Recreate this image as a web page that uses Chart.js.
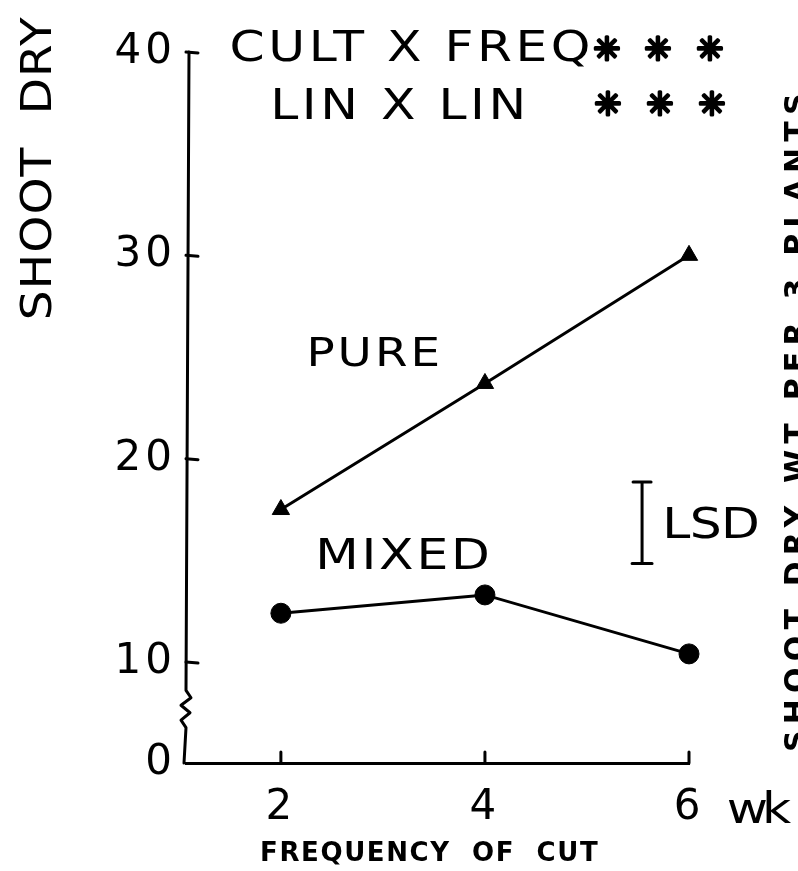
<!DOCTYPE html>
<html>
<head>
<meta charset="utf-8">
<title>Shoot dry weight by frequency of cut</title>
<script src="https://cdn.jsdelivr.net/npm/chart.js@4.4.1/dist/chart.umd.min.js"></script>
<style>
  html, body { margin: 0; padding: 0; background: #fff; }
  #wrap { width: 798px; height: 871px; }
</style>
</head>
<body>
<div id="wrap"><canvas id="shootChart" width="798" height="871"></canvas></div>
<script>
// weeks between cuts and shoot dry weight per 3 plants
const cutWeeks = [2, 4, 6];
const pureShoot = [17.5, 23.7, 30.0];
const mixedShoot = [12.4, 13.3, 10.4];
const yTickValues = [0, 10, 20, 30, 40];

// LSD bar: length, centre value and the week it is drawn at
const lsdValue = 4.0;
const lsdCentre = 16.85;
const lsdWeek = 5.54;

// y axis is broken below 10, the 0-10 part gets a short strip at the bottom
const BREAK_AT = 10;
const LOWER_SHARE = 0.142;
// zigzag drawn between these values
const ZIG_FROM = 7.2;
const ZIG_TO = 3.5;

const LETTER = '"DejaVu Sans", sans-serif';
const INK = '#000';
const WIDE = 1.2;   // stencil lettering is wider than DejaVu

const LinearScale = Chart.LinearScale || Chart.registry.getScale('linear');

class BrokenLinearScale extends LinearScale {
    getPixelForValue(value) {
        let dec;
        if (value <= BREAK_AT) {
            dec = (value - this.min) / (BREAK_AT - this.min) * LOWER_SHARE;
        } else {
            dec = LOWER_SHARE + (value - BREAK_AT) / (this.max - BREAK_AT) * (1 - LOWER_SHARE);
        }
        return this.getPixelForDecimal(dec);
    }
    getValueForPixel(pixel) {
        const dec = this.getDecimalForPixel(pixel);
        if (dec <= LOWER_SHARE) {
            return this.min + dec / LOWER_SHARE * (BREAK_AT - this.min);
        }
        return BREAK_AT + (dec - LOWER_SHARE) / (1 - LOWER_SHARE) * (this.max - BREAK_AT);
    }
}
BrokenLinearScale.id = 'brokenLinear';
BrokenLinearScale.defaults = LinearScale.defaults;
Chart.register(BrokenLinearScale);

// text stretched so its ink runs from x0 to x1, centred on cy
function spacedText(ctx, text, x0, x1, cy, font, stretch = 1) {
    ctx.save();
    ctx.font = font;
    ctx.letterSpacing = '0px';
    ctx.textAlign = 'left';
    ctx.textBaseline = 'alphabetic';
    const m = ctx.measureText(text);
    const ink = m.actualBoundingBoxLeft + m.actualBoundingBoxRight;
    const gaps = text.length - 1;
    const sp = gaps > 0 ? ((x1 - x0) / stretch - ink) / gaps : 0;
    ctx.letterSpacing = sp + 'px';
    ctx.translate(x0, cy);
    ctx.scale(stretch, 1);
    ctx.fillStyle = INK;
    ctx.fillText(text, m.actualBoundingBoxLeft,
        (m.actualBoundingBoxAscent - m.actualBoundingBoxDescent) / 2);
    ctx.restore();
}

// same, but reading upwards from y1 (bottom) to y0 (top) around column cx
function upText(ctx, text, cx, y0, y1, font, stretch = 1) {
    ctx.save();
    ctx.translate(cx, (y0 + y1) / 2);
    ctx.rotate(-Math.PI / 2);
    const half = (y1 - y0) / 2;
    spacedText(ctx, text, -half, half, 0, font, stretch);
    ctx.restore();
}

// single glyph centred on (cx, cy), outlined to make it heavier
function glyph(ctx, ch, cx, cy, font, weight = 0) {
    ctx.save();
    ctx.font = font;
    ctx.textAlign = 'center';
    ctx.textBaseline = 'alphabetic';
    const m = ctx.measureText(ch);
    const y = cy + (m.actualBoundingBoxAscent - m.actualBoundingBoxDescent) / 2;
    ctx.fillStyle = INK;
    ctx.fillText(ch, cx, y);
    if (weight > 0) {
        ctx.strokeStyle = INK;
        ctx.lineWidth = weight;
        ctx.lineJoin = 'round';
        ctx.strokeText(ch, cx, y);
    }
    ctx.restore();
}

const axisLetterSpacing = {
    id: 'axisLetterSpacing',
    beforeDraw(chart) {
        chart.ctx.letterSpacing = '4px';
    },
    beforeDatasetsDraw(chart) {
        chart.ctx.letterSpacing = '0px';
    }
};

const handDrawnAxes = {
    id: 'handDrawnAxes',
    beforeDatasetsDraw(chart) {
        const { ctx, chartArea, scales } = chart;
        const xs = scales.x, ys = scales.y;
        const left = chartArea.left;
        ctx.save();
        ctx.strokeStyle = INK;
        ctx.lineWidth = 3;
        ctx.lineCap = 'round';
        ctx.lineJoin = 'round';

        // y axis line with a zigzag break
        const top = ys.getPixelForValue(40);
        const zTop = ys.getPixelForValue(ZIG_FROM);
        const zBot = ys.getPixelForValue(ZIG_TO);
        const bottom = ys.getPixelForValue(0);
        const step = (zBot - zTop) / 5;
        ctx.beginPath();
        ctx.moveTo(left + 3, top);
        ctx.lineTo(left, zTop);
        ctx.lineTo(left + 5, zTop + step);
        ctx.lineTo(left - 5, zTop + 2 * step);
        ctx.lineTo(left + 4, zTop + 3 * step);
        ctx.lineTo(left - 5, zTop + 4 * step);
        ctx.lineTo(left, zBot);
        ctx.lineTo(left - 2, bottom);
        ctx.stroke();

        // short ticks pointing into the plot
        yTickValues.forEach(v => {
            if (v === 0) return;
            const y = ys.getPixelForValue(v);
            ctx.beginPath();
            ctx.moveTo(left, y);
            ctx.lineTo(left + 12, y + 1);
            ctx.stroke();
        });
        cutWeeks.forEach(w => {
            const x = xs.getPixelForValue(w);
            ctx.beginPath();
            ctx.moveTo(x, bottom);
            ctx.lineTo(x, bottom - 11);
            ctx.stroke();
        });
        ctx.restore();
    }
};

const figureText = {
    id: 'figureText',
    afterDraw(chart) {
        const { ctx, scales } = chart;
        const xs = scales.x, ys = scales.y;
        const big = '42px ' + LETTER;
        const star = 'bold 32px ' + LETTER;
        const hand = 'bold 26px ' + LETTER;

        spacedText(ctx, 'CULT X FREQ', 232, 588, 48, big, WIDE);
        [607, 658, 710].forEach(x => glyph(ctx, '\u2733', x, 48, star, 3));
        spacedText(ctx, 'LIN X LIN', 275, 522, 103, big, WIDE);
        [608, 660, 712].forEach(x => glyph(ctx, '\u2733', x, 103, star, 3));

        spacedText(ctx, 'PURE', 310, 438, 352, '39px ' + LETTER, WIDE);
        spacedText(ctx, 'MIXED', 320, 487, 553, big, WIDE);

        // LSD bar drawn on the value scale
        const lx = xs.getPixelForValue(lsdWeek);
        const lTop = ys.getPixelForValue(lsdCentre + lsdValue / 2);
        const lBot = ys.getPixelForValue(lsdCentre - lsdValue / 2);
        ctx.save();
        ctx.strokeStyle = INK;
        ctx.lineWidth = 3;
        ctx.lineCap = 'round';
        ctx.beginPath();
        ctx.moveTo(lx, lTop);
        ctx.lineTo(lx, lBot);
        ctx.moveTo(lx - 9, lTop);
        ctx.lineTo(lx + 9, lTop);
        ctx.moveTo(lx - 10, lBot);
        ctx.lineTo(lx + 10, lBot);
        ctx.stroke();
        ctx.restore();
        spacedText(ctx, 'LSD', 667, 757, (lTop + lBot) / 2, big, WIDE);

        spacedText(ctx, 'wk', 728, 792, 806, big, WIDE);
        spacedText(ctx, 'FREQUENCY  OF  CUT', 262, 598, 853, hand);

        upText(ctx, 'SHOOT  DRY', 35, 17, 318, big, 1.12);
        upText(ctx, 'SHOOT DRY WT PER 3 PLANTS', 795, 95, 750, 'bold 30px ' + LETTER);
    }
};

const ctx = document.getElementById('shootChart').getContext('2d');
const shootChart = new Chart(ctx, {
    type: 'line',
    data: {
        datasets: [{
            label: 'PURE',
            data: cutWeeks.map((w, i) => ({ x: w, y: pureShoot[i] })),
            borderColor: INK,
            backgroundColor: INK,
            borderWidth: 3,
            pointStyle: 'triangle',
            pointRadius: 10,
            pointBorderWidth: 1,
            tension: 0,
            clip: false
        }, {
            label: 'MIXED',
            data: cutWeeks.map((w, i) => ({ x: w, y: mixedShoot[i] })),
            borderColor: INK,
            backgroundColor: INK,
            borderWidth: 3,
            pointStyle: 'circle',
            pointRadius: 10,
            pointBorderWidth: 1,
            tension: 0,
            clip: false
        }]
    },
    options: {
        responsive: false,
        animation: false,
        layout: {
            padding: { left: 74, right: 109, top: 52, bottom: 38 }
        },
        scales: {
            x: {
                type: 'linear',
                min: 1.07,
                max: 6,
                afterBuildTicks: scale => {
                    scale.ticks = cutWeeks.map(v => ({ value: v }));
                },
                afterFit: scale => {
                    scale.height = 70;
                },
                ticks: {
                    color: INK,
                    padding: 12,
                    font: { family: LETTER, size: 42 }
                },
                grid: { display: false },
                border: { display: true, color: INK, width: 3 }
            },
            y: {
                type: 'brokenLinear',
                min: 0,
                max: 40,
                afterBuildTicks: scale => {
                    scale.ticks = yTickValues.map(v => ({ value: v }));
                },
                afterFit: scale => {
                    scale.width = 112;
                },
                ticks: {
                    color: INK,
                    padding: 2,
                    font: { family: LETTER, size: 42 }
                },
                grid: { display: false },
                border: { display: false }
            }
        },
        plugins: {
            legend: { display: false },
            tooltip: { enabled: false }
        }
    },
    plugins: [axisLetterSpacing, handDrawnAxes, figureText]
});
</script>
</body>
</html>
